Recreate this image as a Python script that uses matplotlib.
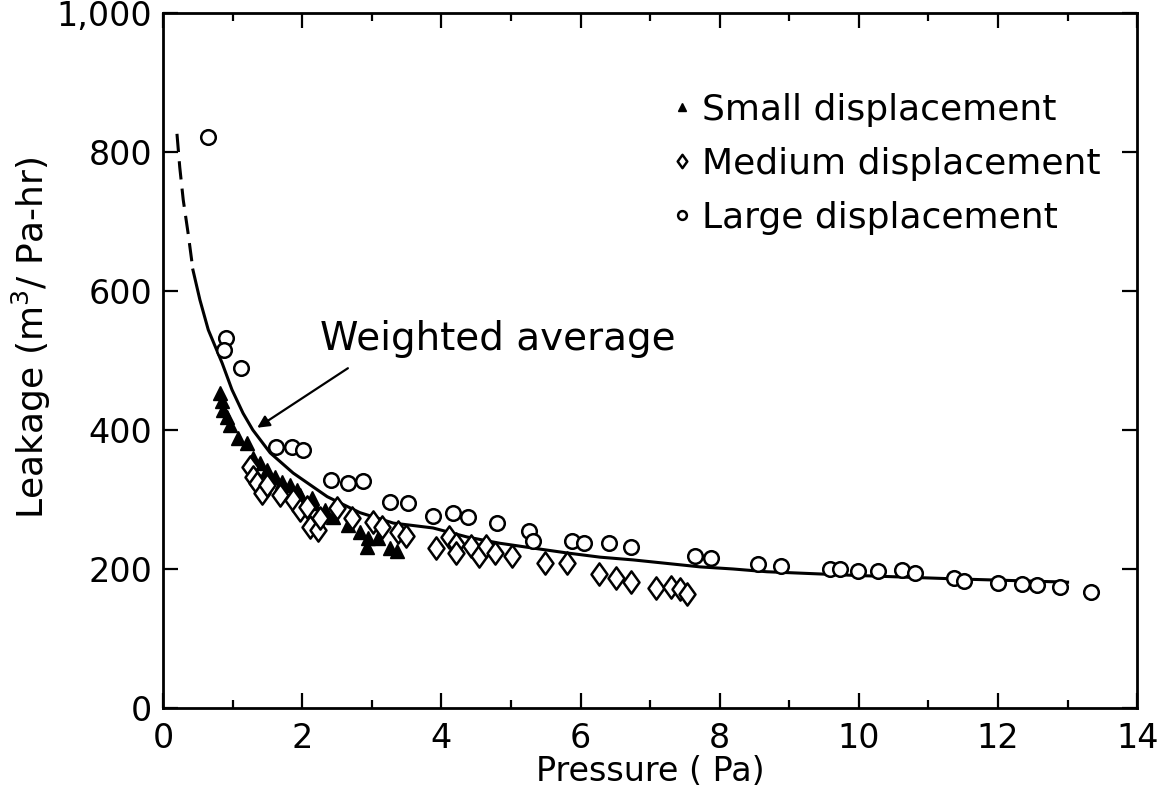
import matplotlib.pyplot as plt
import numpy as np
from matplotlib.path import Path
from matplotlib.ticker import MultipleLocator, FuncFormatter

plt.rcParams['font.family'] = ['DejaVu Sans']

# Small displacement (filled triangles)
small_x = [0.82, 0.85, 0.86, 0.92, 0.96, 1.08, 1.21, 1.29, 1.39, 1.49, 1.61, 1.71,
           1.83, 1.93, 1.97, 2.14, 2.16, 2.33, 2.44, 2.66, 2.83, 2.95, 2.93, 3.09,
           3.26, 3.36]
small_y = [453, 441, 429, 419, 407, 388, 381, 360, 352, 342, 332, 325,
           321, 314, 306, 302, 295, 285, 275, 263, 253, 245, 232, 245,
           230, 226]

# Medium displacement (open diamonds)
medium_x = [1.25, 1.29, 1.35, 1.42, 1.49, 1.68, 1.87, 1.97, 2.07, 2.11, 2.23, 2.26,
            2.50, 2.72, 3.02, 3.15, 3.38, 3.49, 3.92, 4.11, 4.21, 4.21, 4.43, 4.54,
            4.64, 4.77, 5.02, 5.49, 5.81, 6.27, 6.51, 6.73, 7.09, 7.30, 7.43, 7.53]
medium_y = [347, 332, 324, 309, 321, 306, 299, 285, 289, 260, 256, 273,
            288, 273, 268, 260, 253, 247, 230, 246, 236, 223, 233, 219,
            233, 223, 219, 209, 209, 193, 187, 181, 173, 174, 171, 164]

# Large displacement (open circles)
large_x = [0.65, 0.91, 0.88, 1.12, 1.62, 1.85, 2.01, 2.41, 2.66, 2.87, 3.26, 3.52,
           3.88, 4.17, 4.38, 4.80, 5.26, 5.32, 5.88, 6.05, 6.41, 6.73, 7.65, 7.88,
           8.55, 8.88, 9.59, 9.73, 9.99, 10.28, 10.62, 10.81, 11.37, 11.51, 12.00,
           12.35, 12.56, 12.89, 13.34]
large_y = [822, 532, 515, 489, 376, 376, 371, 328, 324, 327, 296, 295,
           276, 280, 275, 266, 255, 240, 240, 237, 237, 232, 219, 216,
           207, 204, 200, 200, 197, 197, 198, 194, 187, 183, 180,
           178, 177, 174, 167]

# Weighted average curve (first part dashed)
curve_x = [0.20, 0.24, 0.29, 0.36, 0.43, 0.53, 0.65, 0.85, 0.99, 1.15, 1.29, 1.54,
           1.87, 2.36, 2.83, 3.31, 3.88, 4.37, 4.84, 5.32, 5.81, 6.28, 6.76, 7.24,
           7.72, 8.19, 8.68, 9.16, 9.88, 11.31, 13.0]
curve_y = [826, 778, 731, 683, 630, 587, 544, 496, 458, 424, 400, 367,
           338, 304, 281, 266, 259, 246, 237, 230, 223, 217, 213, 208,
           203, 200, 196, 194, 191, 186, 181]
n_dash = 5

# slightly tall diamond like the original symbol
diamond = Path([(0, 1), (0.72, 0), (0, -1), (-0.72, 0), (0, 1)],
               [Path.MOVETO, Path.LINETO, Path.LINETO, Path.LINETO, Path.CLOSEPOLY])

fig = plt.figure(figsize=(11.68, 8.05), dpi=100)
ax = fig.add_axes([0.1396, 0.1205, 0.834, 0.8635])

ax.plot(curve_x[:n_dash], curve_y[:n_dash], color='black', lw=2.2, dashes=(6, 3))
ax.plot(curve_x[n_dash - 1:], curve_y[n_dash - 1:], color='black', lw=2.2)

ax.plot(small_x, small_y, linestyle='none', marker='^', ms=10, color='black',
        label='Small displacement')
ax.plot(medium_x, medium_y, linestyle='none', marker=diamond, ms=16, mfc='white',
        mec='black', mew=1.8, label='Medium displacement')
ax.plot(large_x, large_y, linestyle='none', marker='o', ms=10.5, mfc='white',
        mec='black', mew=1.8, label='Large displacement')

ax.text(2.26, 515, 'Weighted average', fontsize=28, va='baseline', ha='left')
ax.annotate('', xy=(1.32, 401), xytext=(2.69, 491),
            arrowprops=dict(arrowstyle='-|>', color='black', lw=1.6,
                            mutation_scale=18))

leg = ax.legend(loc='upper left', bbox_to_anchor=(0.524, 0.885), frameon=False,
                fontsize=26, handlelength=0.45, handletextpad=0.35,
                labelspacing=0.55, markerscale=0.6, borderpad=0,
                borderaxespad=0)

ax.set_xlim(0, 14)
ax.set_ylim(0, 1000)
ax.xaxis.set_major_locator(MultipleLocator(2))
ax.xaxis.set_minor_locator(MultipleLocator(1))
ax.yaxis.set_major_locator(MultipleLocator(200))
ax.yaxis.set_major_formatter(FuncFormatter(lambda v, p: f'{int(v):,}'))
ax.tick_params(which='both', direction='in', top=True, right=True, width=1.6,
               labelsize=24)
ax.tick_params(which='major', length=11)
ax.tick_params(which='minor', length=6)
ax.tick_params(axis='x', pad=10)
ax.tick_params(axis='y', pad=8)
for s in ax.spines.values():
    s.set_linewidth(2)

ax.set_xlabel('Pressure ( Pa)', fontsize=24, labelpad=0)
ax.set_ylabel('Leakage (m$^3$/ Pa-hr)', fontsize=26)
ax.yaxis.set_label_coords(-0.113, 0.532)

plt.savefig('out.png', dpi=100)
plt.close()
